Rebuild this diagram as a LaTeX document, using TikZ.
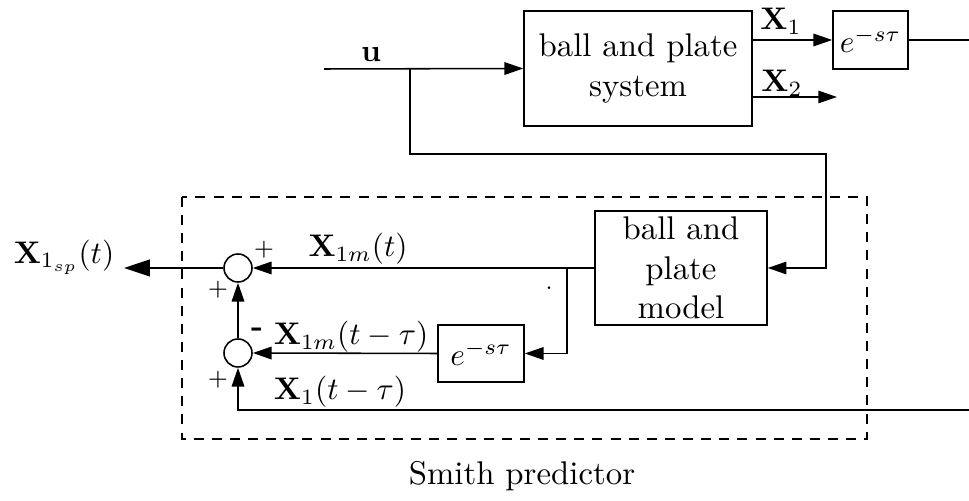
\documentclass[tikz,border=0pt]{standalone}
\usepackage{fix-cm}
\usetikzlibrary{arrows.meta}
\begin{document}
\begin{tikzpicture}[x=0.32pt,y=-0.32pt,
  every node/.style={inner sep=0pt, font=\fontsize{10}{12}\selectfont},
  blk/.style={draw, line width=0.5pt, inner sep=0pt, align=center, font=\fontsize{10.5}{12.6}\selectfont},
  sumc/.style={draw, line width=0.5pt, circle, minimum size=8.96pt, inner sep=0pt},
  sig/.style={line width=0.5pt},
  arr/.style={sig, -{Triangle[length=6pt,width=4pt]}},
  bigarr/.style={sig, -{Triangle[length=8.3pt,width=5.4pt]}},
  pl/.style={font=\fontsize{7.4}{8}\selectfont, inner sep=0pt},
  frame/.style={line width=0.5pt, dash pattern=on 3.2pt off 2.6pt}]
\useasboundingbox (0,0) rectangle (969,501);
% blocks
\node[blk, minimum width=72.96pt, minimum height=36.8pt] (sys) at (638,68.5) {ball and plate\\system};
\node[blk, minimum width=24pt, minimum height=18.56pt, font=\fontsize{10}{12}\selectfont] (d1) at (870.5,40) {$e^{-s\tau}$};
\node[blk, minimum width=55pt, minimum height=36.5pt] (model) at (681,268) {ball and\\plate\\model};
\node[blk, minimum width=27.5pt, minimum height=18.24pt, font=\fontsize{10}{12}\selectfont] (d2) at (481,353.5) {$e^{-s\tau}$};
\node[sumc] (s1) at (238,268) {};
\node[sumc] (s2) at (238,353) {};
% frame
\draw[frame] (182,197) rectangle (867,439);
% coordinates
\coordinate (uin) at (324,69);
\coordinate (ub) at (410,69);
\coordinate (x2end) at (837,97);
\coordinate (yout) at (969,40);
\coordinate (mb) at (567,268);
\coordinate (xsp) at (124,268);
\coordinate (fbin) at (969,410);
% connectors
\draw[arr] (uin) -- (sys.west);
\draw[arr] (ub) -- (410,154) -- (826,154) -- (826,268) -- (model.east);
\draw[arr] (sys.east |- d1.west) -- (d1.west);
\draw[arr] (sys.east |- x2end) -- (x2end);
\draw[sig] (d1.east) -- (yout);
\draw[arr] (model.west) -- (s1.east);
\draw[arr] (mb) |- (d2.east);
\draw[arr] (d2.west) -- (s2.east);
\draw[arr] (s2.north) -- (s1.south);
\draw[bigarr] (s1.west) -- (xsp);
\draw[arr] (fbin) -| (s2.south);
% labels
\node (lu) at (371,55) {$\mathbf{u}$};
\node (lx1) at (781,21) {$\mathbf{X}_1$};
\node (lx2) at (782,83) {$\mathbf{X}_2$};
\node (lx1m) at (358,249) {$\mathbf{X}_{1m}(t)$};
\node (lx1mt) at (351,337) {$\mathbf{X}_{1m}(t-\tau)$};
\node (lx1t) at (340,392) {$\mathbf{X}_1(t-\tau)$};
\node (lxsp) at (64,257) {$\mathbf{X}_{1_{sp}}(t)$};
\node (minus) at (257,332) {\textbf{-}};
\node[pl] (p1) at (264,250) {$+$};
\node[pl] (p2) at (218,290) {$+$};
\node[pl] (p3) at (218,380) {$+$};
\node[pl] (dot) at (549,288) {.};
\node[font=\fontsize{10.5}{12.6}\selectfont] (title) at (522,476) {Smith predictor};
\end{tikzpicture}
\end{document}
